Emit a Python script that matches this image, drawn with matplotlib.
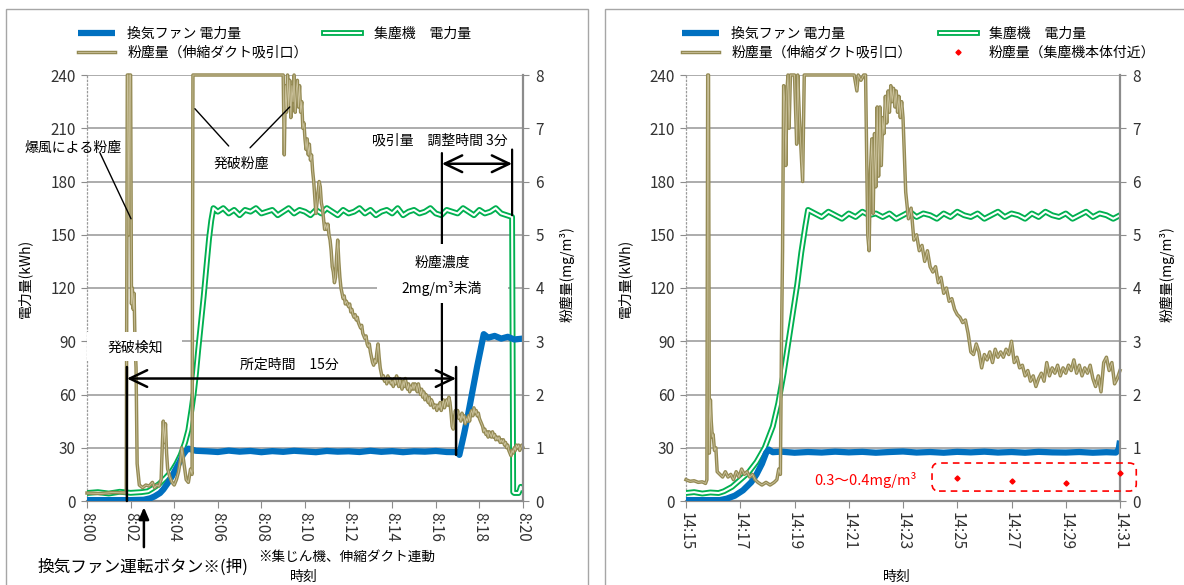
import numpy as np
import matplotlib.pyplot as plt
import matplotlib.patheffects as pe
from matplotlib.patches import Rectangle, FancyBboxPatch
from matplotlib.transforms import IdentityTransform

plt.rcParams['font.family'] = ['Noto Sans CJK JP', 'DejaVu Sans']

W, H = 1184, 585
BLUE = '#0070c0'
GREEN = '#00b050'
KHAKI = '#948a54'
KHAKI_IN = '#cbc29c'
GRID = '#a6a6a6'
TXT = '#333333'

kwh_ticks = [0, 30, 60, 90, 120, 150, 180, 210, 240]
mg_ticks = [0, 1, 2, 3, 4, 5, 6, 7, 8]

# ---------------- left chart (8:00 - 8:20), minutes from 8:00
l_xticks = [0, 2, 4, 6, 8, 10, 12, 14, 16, 18, 20]
l_xlabels = ['8:00', '8:02', '8:04', '8:06', '8:08', '8:10',
             '8:12', '8:14', '8:16', '8:18', '8:20']

fan_l_t = [0, 1, 2, 2.6, 2.9, 3.1, 3.35, 3.5, 3.7, 3.9, 4.1, 4.25, 4.4, 4.55, 4.65,
           5.0, 5.5, 6.0, 6.5, 7.0, 7.5, 8.0, 8.5, 9.0, 9.5, 10.0, 10.5, 11.0, 11.5,
           12.0, 12.5, 13.0, 13.5, 14.0, 14.5, 15.0, 15.5, 16.0, 16.5, 17.0,
           17.08, 17.3, 17.5, 17.7, 17.9, 18.1, 18.2, 18.4, 18.7, 19.0, 19.3, 19.6, 20.0]
fan_l_v = [0.5, 0.5, 0.5, 0.7, 1.5, 2.6, 4.5, 6.5, 10, 14, 18.6, 22, 26, 28.5, 29.5,
           28.3, 28, 27.6, 28.4, 27.8, 28.2, 27.5, 28.1, 27.7, 28.3, 27.9, 27.5, 28.2, 27.8,
           28, 27.6, 28.3, 27.7, 28.1, 27.5, 28, 27.8, 28.2, 27.6, 27.5,
           26, 38, 50, 63, 76, 88, 94, 92, 93, 91.5, 92.5, 91, 91.5]

col_l_rise_t = [0, 0.5, 1.0, 1.5, 2.0, 2.5, 2.8, 3.0, 3.3, 3.6, 3.9, 4.1, 4.3, 4.5,
                4.65, 4.8, 4.9, 5.0, 5.1, 5.2, 5.35, 5.5, 5.6, 5.7, 5.8]
col_l_rise_v = [4.5, 5.0, 4.2, 5.2, 4.6, 5.0, 5.5, 7, 9.5, 13, 17, 21, 26, 33,
                40, 52, 61, 72, 85, 97, 115, 135, 148, 158, 165]
# plateau sampled every 0.25 min from 8:06
col_l_flat_v = [163, 165, 162, 164, 161, 164, 163, 165, 162, 163,
                164, 161, 163, 165, 162, 164, 163, 161, 164, 162,
                165, 163, 161, 164, 162, 163, 165, 162, 164, 161,
                163, 164, 162, 165, 161, 163, 164, 162, 163, 165,
                162, 161, 164, 163, 162, 165, 163, 161, 164, 162,
                163, 165, 162, 161, 160]
col_l_end_t = [19.55, 19.6, 19.7, 19.8, 19.85, 19.9, 19.95, 20.0]
col_l_end_v = [5, 4.5, 4.5, 4.5, 6, 8, 6.5, 7]

dust_l_a_t = [0, 0.6, 1.2, 1.8, 1.85, 1.88, 1.92, 1.96, 2.0, 2.04, 2.08, 2.12, 2.16,
              2.2, 2.25, 2.3, 2.4, 2.55, 2.7, 2.85, 3.0, 3.1, 3.2, 3.3, 3.4, 3.45,
              3.5, 3.55, 3.6, 3.65, 3.7, 3.8, 3.9, 4.0, 4.1, 4.2, 4.3, 4.35, 4.45,
              4.55, 4.65, 4.75, 4.82, 4.86]
dust_l_a_v = [0.15, 0.14, 0.16, 0.15, 8.0, 8.0, 5.0, 8.0, 8.0, 3.7, 4.0, 3.6, 3.9,
              3.0, 2.5, 0.7, 0.3, 0.25, 0.3, 0.28, 0.35, 0.25, 0.3, 0.28, 0.4, 1.0,
              1.5, 1.1, 1.45, 0.9, 0.6, 0.45, 0.35, 0.3, 0.4, 0.55, 0.8, 1.0, 0.7,
              0.4, 0.35, 0.6, 0.5, 8.0]
# sampled every 0.05 min from 8:09
dust_l_b_v = [8.0, 6.5, 7.8, 7.3, 8.0, 7.4, 7.9, 7.2, 7.8, 7.5,
              8.0, 7.3, 7.7, 7.9, 7.4, 7.8, 7.3, 7.5, 7.0, 7.1,
              6.8, 6.6, 6.8, 6.5, 6.7, 6.4, 6.5, 6.2, 6.0, 5.7,
              5.4, 5.6, 5.8, 6.0, 5.9, 5.6, 5.5, 5.3, 5.1, 5.2,
              5.1, 5.2, 5.0, 4.9, 4.7, 4.4, 4.3, 4.1, 4.2, 4.6,
              4.9, 4.5, 4.2, 4.0, 3.9, 3.8, 3.85, 3.7, 3.75, 3.7,
              3.65, 3.7, 3.55, 3.6, 3.5, 3.45, 3.5, 3.4, 3.45, 3.35,
              3.3, 3.25, 3.3, 3.15, 3.1, 3.05, 3.1, 2.95, 2.9, 2.95,
              2.8, 2.7, 2.6, 2.55, 2.65, 2.6, 2.8, 2.95, 2.7, 2.5,
              2.4, 2.3, 2.35, 2.25, 2.3, 2.2, 2.35, 2.25, 2.3, 2.2,
              2.25, 2.15, 2.3, 2.2, 2.35, 2.25, 2.15, 2.3, 2.2, 2.1,
              2.25, 2.15, 2.3, 2.2, 2.1, 2.2, 2.05, 2.15, 2.1, 2.2,
              2.1, 2.2, 2.15, 2.05, 2.2, 2.1, 2.0, 2.1, 1.95, 2.05,
              1.9, 2.0, 1.95, 1.85, 1.95, 1.8, 1.9, 1.85, 1.75, 1.8,
              1.8, 1.7, 1.8, 1.75, 1.85, 1.7, 1.8, 1.9, 1.75, 1.85,
              1.9, 1.8, 1.95, 1.85, 1.65, 1.4, 1.35, 1.55, 1.7, 1.6,
              1.7, 1.55, 1.6, 1.5, 1.65, 1.55, 1.6, 1.45, 1.55, 1.5,
              1.6, 1.5, 1.65, 1.7, 1.6, 1.75, 1.65, 1.7, 1.6, 1.65,
              1.55, 1.5, 1.45, 1.4, 1.3, 1.35, 1.25, 1.3, 1.2, 1.3,
              1.25, 1.2, 1.3, 1.2, 1.25, 1.15, 1.2, 1.15, 1.2, 1.1,
              1.15, 1.1, 1.15, 1.05, 1.1, 1.0, 1.05, 0.95, 0.9, 0.85,
              0.95, 0.9, 1.0, 0.95, 1.05, 1.0, 1.05, 0.95, 1.0, 1.05,
              1.0]

# ---------------- right chart (14:15 - 14:31), minutes from 14:15
r_xticks = [0, 2, 4, 6, 8, 10, 12, 14, 16]
r_xlabels = ['14:15', '14:17', '14:19', '14:21', '14:23',
             '14:25', '14:27', '14:29', '14:31']

fan_r_t = [0, 0.6, 1.25, 1.5, 1.8, 2.1, 2.4, 2.6, 2.8, 2.95, 3.05, 3.2, 3.5, 4, 4.5,
           5, 5.5, 6, 6.5, 7, 7.5, 8, 8.5, 9, 9.5, 10, 10.5, 11, 11.5, 12,
           12.5, 13, 13.5, 14, 14.5, 15, 15.5, 15.85, 15.95, 16.0]
fan_r_v = [0.5, 0.5, 0.5, 1.3, 3, 6, 10.5, 15, 21, 27, 29, 27.5, 27.8, 27.2, 27.6,
           27.3, 27.8, 27.4, 27.7, 27.2, 27.6, 27.9, 27.3, 27.6, 27.2, 27.7, 27.4, 27.8, 27.3, 27.6,
           27.2, 27.7, 27.4, 27.3, 27.6, 27.2, 27.5, 27.3, 29, 34]

col_r_rise_t = [0, 0.3, 0.6, 0.9, 1.2, 1.4, 1.7, 2.0, 2.3, 2.6, 2.9, 3.2, 3.4, 3.6,
                3.8, 3.95, 4.1, 4.25, 4.4, 4.5]
col_r_rise_v = [4.5, 5.0, 4.2, 4.8, 4.5, 5.5, 8, 12, 16, 22, 30, 42, 55, 72,
                92, 107, 122, 140, 155, 164]
# plateau sampled every 0.25 min from 14:19.75
col_r_flat_v = [162, 160, 163, 161, 159, 162, 160, 163, 161, 162,
                160, 162, 159, 161, 163, 160, 162, 161, 159, 162,
                160, 163, 161, 160, 162, 159, 161, 163, 160, 162,
                161, 159, 162, 160, 163, 161, 160, 162, 159, 161,
                163, 160, 162, 161, 159, 161]

dust_r_a_t = [0, 0.15, 0.3, 0.45, 0.6, 0.72, 0.77, 0.8, 0.83, 0.86, 0.9, 0.93, 0.97,
              1.0, 1.05, 1.1, 1.15, 1.25, 1.35, 1.45, 1.55, 1.65, 1.75, 1.85, 1.95,
              2.05, 2.15, 2.25, 2.35, 2.45, 2.55, 2.65, 2.8, 2.95, 3.1, 3.25, 3.35,
              3.42, 3.48, 3.52, 3.56, 3.6, 3.64, 3.68, 3.72, 3.76, 3.8, 3.85, 3.9,
              4.0, 4.08, 4.12, 4.18, 4.25, 4.3, 4.36, 4.45, 6.2, 6.3, 6.35, 6.45,
              6.55, 6.62]
dust_r_a_v = [0.4, 0.37, 0.38, 0.35, 0.36, 0.33, 0.4, 8.0, 8.0, 0.9, 1.9, 1.5, 1.2,
              1.25, 0.95, 1.0, 0.55, 0.5, 0.45, 0.55, 0.45, 0.5, 0.4, 0.55, 0.45,
              0.6, 0.5, 0.55, 0.45, 0.5, 0.4, 0.35, 0.3, 0.35, 0.3, 0.35, 0.4,
              0.6, 0.5, 3.0, 4.7, 7.8, 7.5, 6.3, 7.7, 8.0, 7.0, 8.0, 8.0,
              8.0, 6.7, 8.0, 7.2, 6.5, 6.0, 8.0, 8.0, 8.0, 7.7, 8.0, 7.9,
              8.0, 8.0]
# sampled every 0.05 min from 14:21.7
dust_r_b_v = [5.0, 4.7, 6.2, 6.8, 5.4, 6.9, 5.9, 7.4, 6.1, 7.4,
              6.3, 7.2, 6.9, 7.6, 7.1, 7.7, 7.3, 7.8, 7.5, 7.75,
              7.4, 7.7, 7.3, 7.6, 7.2, 7.5, 7.2]
# sampled every 0.1 min from 14:23.1
dust_r_c_v = [5.8, 5.3, 5.5, 4.9, 5.0, 4.7, 4.8, 4.5, 4.7, 4.4,
              4.3, 4.4, 4.1, 4.2, 3.9, 4.0, 3.75, 3.8, 3.6, 3.5,
              3.45, 3.35, 3.4, 3.15, 2.8, 2.75, 2.95, 2.8, 2.5, 2.75,
              2.65, 2.8, 2.6, 2.85, 2.7, 2.8, 2.7, 2.85, 2.75, 3.0,
              2.6, 2.7, 2.5, 2.55, 2.35, 2.45, 2.25, 2.35, 2.15, 2.3,
              2.4, 2.25, 2.6, 2.35, 2.5, 2.4, 2.55, 2.35, 2.5, 2.4,
              2.55, 2.45, 2.65, 2.4, 2.55, 2.35, 2.5, 2.4, 2.55, 2.3,
              2.15, 2.35, 2.05, 2.6, 2.7, 2.45, 2.6, 2.2, 2.3, 2.45]

body_t = [10, 12, 14, 16]
body_v = [0.43, 0.37, 0.33, 0.52]

lab_fan = '換気ファン 電力量'
lab_col = '集塵機　電力量'
lab_duct = '粉塵量（伸縮ダクト吸引口）'
lab_body = '粉塵量（集塵機本体付近）'


def grid_times(start, step, vals):
    return start + step * np.arange(len(vals))


def make_axes(fig, x0, x1, xticks, xlabels):
    ax = fig.add_axes([x0 / W, 1 - 501 / H, (x1 - x0) / W, 426 / H])
    ax2 = ax.twinx()
    ax.set_xlim(xticks[0], xticks[-1])
    ax.set_ylim(0, 240)
    ax2.set_ylim(0, 8)
    ax.set_yticks(kwh_ticks)
    ax2.set_yticks(mg_ticks)
    ax.set_xticks(xticks)
    ax.set_xticklabels(xlabels, rotation=-90)
    ax.yaxis.grid(True, color=GRID, lw=1.3)
    ax.set_axisbelow(True)
    for a in (ax, ax2):
        a.spines['top'].set_visible(False)
    ax.spines['right'].set_visible(False)
    ax2.spines['left'].set_visible(False)
    ax2.spines['bottom'].set_visible(False)
    ax.spines['left'].set_linestyle((0, (1, 2)))
    ax.spines['left'].set_color('#9a9a9a')
    ax.spines['left'].set_linewidth(0.9)
    ax.spines['bottom'].set_color('#8c8c8c')
    ax.spines['bottom'].set_linewidth(1.6)
    ax2.spines['right'].set_color('#8c8c8c')
    ax2.spines['right'].set_linewidth(1.6)
    ax.tick_params(axis='y', colors='#8c8c8c', labelcolor=TXT, labelsize=11, length=4, pad=4)
    ax.tick_params(axis='x', colors='#8c8c8c', labelcolor=TXT, labelsize=11, length=5, pad=3)
    ax2.tick_params(axis='y', colors='#8c8c8c', labelcolor=TXT, labelsize=11, length=4, pad=5)
    return ax, ax2


def double_line(ax, x, y, color, outer, inner, fill, **kw):
    return ax.plot(x, y, color=fill, lw=inner, solid_joinstyle='round',
                   path_effects=[pe.Stroke(linewidth=outer, foreground=color), pe.Normal()],
                   **kw)[0]


def seg(ax2, ax, p0, p1, style='-', lw=1.0, z=6):
    ax2.annotate('', xy=p1, xytext=p0, xycoords=ax.transData, textcoords=ax.transData,
                 arrowprops=dict(arrowstyle=style, lw=lw, color='black',
                                 shrinkA=0, shrinkB=0),
                 annotation_clip=False, zorder=z)


def note(ax2, ax, x, y, s, size=10, color='black'):
    ax2.text(x, y, s, transform=ax.transData, ha='center', va='center',
             fontsize=size, color=color, zorder=7)


fig = plt.figure(figsize=(W / 100, H / 100), dpi=100)

# panel frames
fig.add_artist(Rectangle((6 / W, -0.02), 582 / W, 1 - 9 / H + 0.02, transform=fig.transFigure,
                         fill=False, ec='#a6a6a6', lw=1.0))
fig.add_artist(Rectangle((605 / W, -0.02), 600 / W, 1 - 9 / H + 0.02, transform=fig.transFigure,
                         fill=False, ec='#a6a6a6', lw=1.0))

# ================= left chart
axL, axL2 = make_axes(fig, 87, 523, l_xticks, l_xlabels)
col_l_t = col_l_rise_t + list(grid_times(6.0, 0.25, col_l_flat_v)) + col_l_end_t
col_l_v = col_l_rise_v + col_l_flat_v + col_l_end_v
dust_l_t = dust_l_a_t + list(grid_times(9.0, 0.05, dust_l_b_v))
dust_l_v = dust_l_a_v + dust_l_b_v

h_col = double_line(axL, col_l_t, col_l_v, GREEN, 4.2, 1.5, 'white', zorder=3)
h_fan, = axL.plot(fan_l_t, fan_l_v, color=BLUE, lw=4.5, solid_capstyle='butt', zorder=4)
h_duct = double_line(axL2, dust_l_t, dust_l_v, KHAKI, 2.5, 0.6, KHAKI_IN, zorder=2, clip_on=False)

# annotations (positions in kWh / minutes of the left axis)
note(axL2, axL, -0.64, 199, '爆風による粉塵')
seg(axL2, axL, (0.6, 196), (2.02, 159))
note(axL2, axL, 7.06, 190, '発破粉塵')
seg(axL2, axL, (6.5, 200), (4.95, 221))
seg(axL2, axL, (7.48, 199), (9.3, 222))

note(axL2, axL, 16.2, 203, '吸引量　調整時間 3分')
seg(axL2, axL, (16.28, 196), (16.28, 57), lw=1.6, z=5)
seg(axL2, axL, (19.5, 198), (19.5, 161), lw=1.6)
seg(axL2, axL, (16.28, 190), (19.5, 190), style='<->,head_length=1.25,head_width=0.6', lw=1.8)
axL2.add_patch(Rectangle((13.3, 111.5), 6.0, 33.5, transform=axL.transData,
                         fc='white', ec='none', zorder=5.5, clip_on=False))
note(axL2, axL, 16.28, 134, '粉塵濃度')
note(axL2, axL, 16.28, 120, '2mg/m³未満')

axL2.add_patch(Rectangle((0.02, 79), 4.36, 16, transform=axL.transData,
                         fc='white', ec='none', zorder=5.5))
note(axL2, axL, 2.2, 86.5, '発破検知')
seg(axL2, axL, (1.83, 75.5), (1.83, 0), lw=1.8)
seg(axL2, axL, (16.93, 75.5), (16.93, 26), lw=1.8)
seg(axL2, axL, (1.83, 69), (16.93, 69), style='<->,head_length=1.25,head_width=0.6', lw=1.8)
note(axL2, axL, 9.3, 77, '所定時間　15分')
seg(axL2, axL, (2.61, -26), (2.61, -3.5), style='-|>,head_length=0.7,head_width=0.3', lw=1.8)

fig.text(38 / W, 1 - 567 / H, '換気ファン運転ボタン※(押)', ha='left', va='center', fontsize=12)
fig.text(258 / W, 1 - 557 / H, '※集じん機、伸縮ダクト連動', ha='left', va='center', fontsize=9.8)
fig.text(304 / W, 1 - 577 / H, '時刻', ha='center', va='center', fontsize=10)
fig.text(25 / W, 1 - 278 / H, '電力量(kWh)', rotation=90, ha='center', va='center', fontsize=10)
fig.text(567 / W, 1 - 274 / H, '粉塵量(mg/m³)', rotation=90, ha='center', va='center', fontsize=10)

fig.legend([h_fan, h_duct, h_col], [lab_fan, lab_duct, lab_col], ncol=2,
           loc='upper left', bbox_to_anchor=(78 / W, 1 - 27 / H), frameon=False,
           fontsize=10, handlelength=2.66, handletextpad=0.9, columnspacing=1.2,
           labelspacing=0.35, borderpad=0, borderaxespad=0)

# ================= right chart
axR, axR2 = make_axes(fig, 686, 1120, r_xticks, r_xlabels)
col_r_t = col_r_rise_t + list(grid_times(4.75, 0.25, col_r_flat_v))
col_r_v = col_r_rise_v + col_r_flat_v
dust_r_t = dust_r_a_t + list(grid_times(6.7, 0.05, dust_r_b_v)) + list(grid_times(8.1, 0.1, dust_r_c_v))
dust_r_v = dust_r_a_v + dust_r_b_v + dust_r_c_v

h_col_r = double_line(axR, col_r_t, col_r_v, GREEN, 4.2, 1.5, 'white', zorder=3)
h_fan_r, = axR.plot(fan_r_t, fan_r_v, color=BLUE, lw=4.5, solid_capstyle='butt', zorder=4)
h_duct_r = double_line(axR2, dust_r_t, dust_r_v, KHAKI, 2.5, 0.6, KHAKI_IN, zorder=2, clip_on=False)
h_body, = axR2.plot(body_t, body_v, ls='none', marker='D', ms=2.6, color='red',
                    zorder=6, clip_on=False)

note(axR2, axR, 6.6, 11.8, '0.3～0.4mg/m³', size=10.5, color='red')
p0 = axR.transData.transform((9.07, 5.6))
p1 = axR.transData.transform((16.6, 21.4))
fig.add_artist(FancyBboxPatch(tuple(p0), p1[0] - p0[0], p1[1] - p0[1],
                              boxstyle='round,pad=0,rounding_size=7',
                              transform=IdentityTransform(), fill=False, ec='red',
                              ls=(0, (4, 3)), lw=1.2))

fig.text(897 / W, 1 - 577 / H, '時刻', ha='center', va='center', fontsize=10)
fig.text(625 / W, 1 - 278 / H, '電力量(kWh)', rotation=90, ha='center', va='center', fontsize=10)
fig.text(1167 / W, 1 - 274 / H, '粉塵量(mg/m³)', rotation=90, ha='center', va='center', fontsize=10)

fig.legend([h_fan_r, h_duct_r, h_col_r, h_body], [lab_fan, lab_duct, lab_col, lab_body], ncol=2,
           loc='upper left', bbox_to_anchor=(682 / W, 1 - 27 / H), frameon=False,
           fontsize=10, handlelength=2.66, handletextpad=0.9, columnspacing=2.0,
           labelspacing=0.35, borderpad=0, borderaxespad=0)

fig.savefig('out.png', dpi=100)
